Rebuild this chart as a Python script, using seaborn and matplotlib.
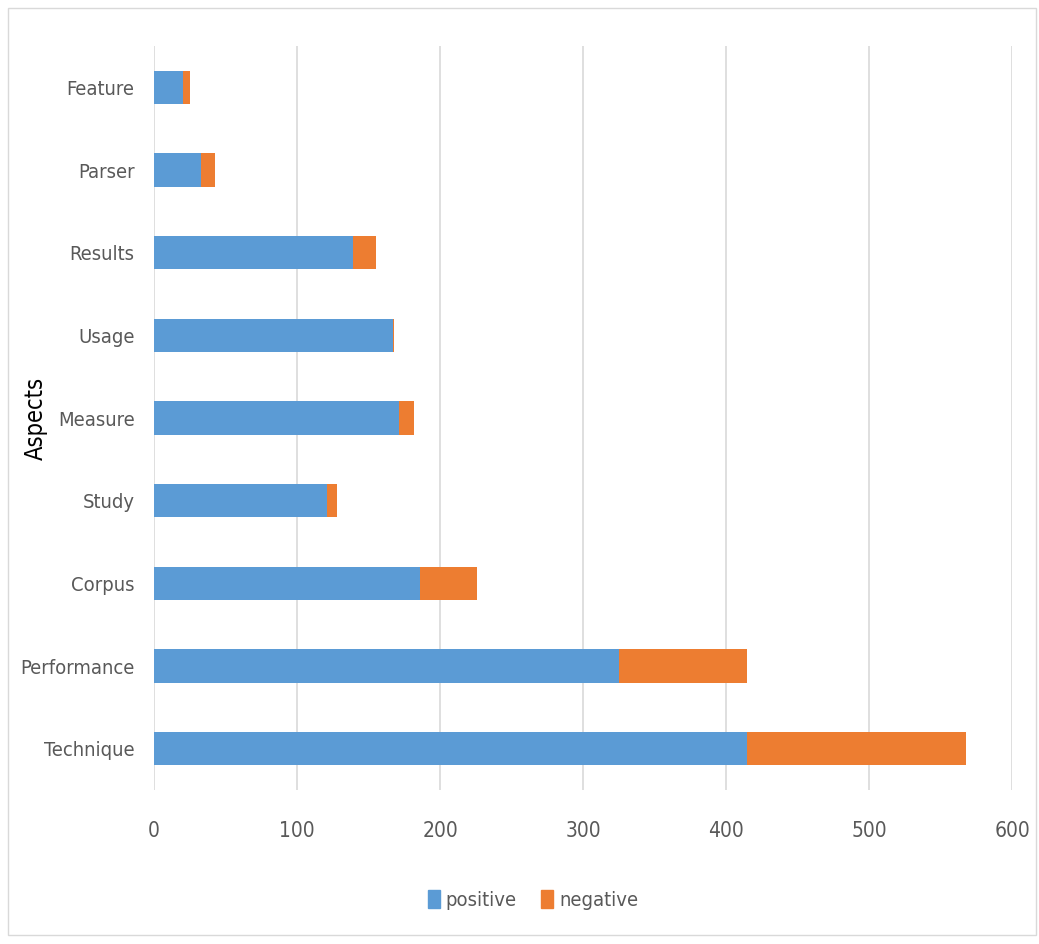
import matplotlib
matplotlib.use("Agg")
import matplotlib.pyplot as plt
import seaborn as sns
import pandas as pd
from matplotlib.patches import Rectangle, Patch

aspects = ["Feature", "Parser", "Results", "Usage", "Measure", "Study", "Corpus", "Performance", "Technique"]
positive = [20, 33, 139, 167, 171, 121, 186, 325, 415]
negative = [5, 10, 16, 1, 11, 7, 40, 90, 153]
xticks = [0, 100, 200, 300, 400, 500, 600]

BLUE = "#5B9BD5"
ORANGE = "#ED7D31"
GRAY = "#595959"

sns.set_theme(style="white")
plt.rcParams['font.family'] = ['DejaVu Sans']
plt.rcParams['font.stretch'] = 'condensed'

df = pd.DataFrame({"aspect": aspects, "positive": positive, "negative": negative})
df["total"] = df["positive"] + df["negative"]

fig = plt.figure(figsize=(10.39, 9.44), dpi=100)
ax = fig.add_axes([154/1039, 1-790/944, (1012-154)/1039, (790-46)/944])

sns.barplot(data=df, y="aspect", x="total", order=aspects, color=ORANGE,
            orient="h", width=0.4, ax=ax, saturation=1, linewidth=0)
sns.barplot(data=df, y="aspect", x="positive", order=aspects, color=BLUE,
            orient="h", width=0.4, ax=ax, saturation=1, linewidth=0)

ax.set_xlim(0, 600)
ax.set_xticks(xticks)
ax.set_xticklabels([str(t) for t in xticks])
ax.set_ylim(len(aspects) - 0.5, -0.5)
ax.grid(axis="x", color="#d9d9d9", linewidth=1.2)
ax.set_axisbelow(True)
for s in ax.spines.values():
    s.set_visible(False)
ax.tick_params(axis="x", length=0, pad=22, labelsize=15, labelcolor=GRAY)
ax.tick_params(axis="y", length=0, pad=14, labelsize=14.5, labelcolor=GRAY)
ax.set_xlabel("")
ax.set_ylabel("Aspects", fontsize=17, color="black")
ax.yaxis.set_label_coords((48 - 154) / (1012 - 154), 0.5)

handles = [Patch(color=BLUE, label="positive"), Patch(color=ORANGE, label="negative")]
fig.legend(handles=handles, loc="center", bbox_to_anchor=(533/1039, 1-900/944),
           ncol=2, frameon=False, fontsize=14.5, labelcolor=GRAY,
           handlelength=0.6, handleheight=1.0, handletextpad=0.3, columnspacing=1.2)

fig.patches.append(Rectangle((8/1039, 1-935/944), (1036-8)/1039, (935-8)/944,
                             transform=fig.transFigure, fill=False,
                             edgecolor="#d9d9d9", linewidth=1))

fig.savefig("out.png", dpi=100, facecolor="white")
